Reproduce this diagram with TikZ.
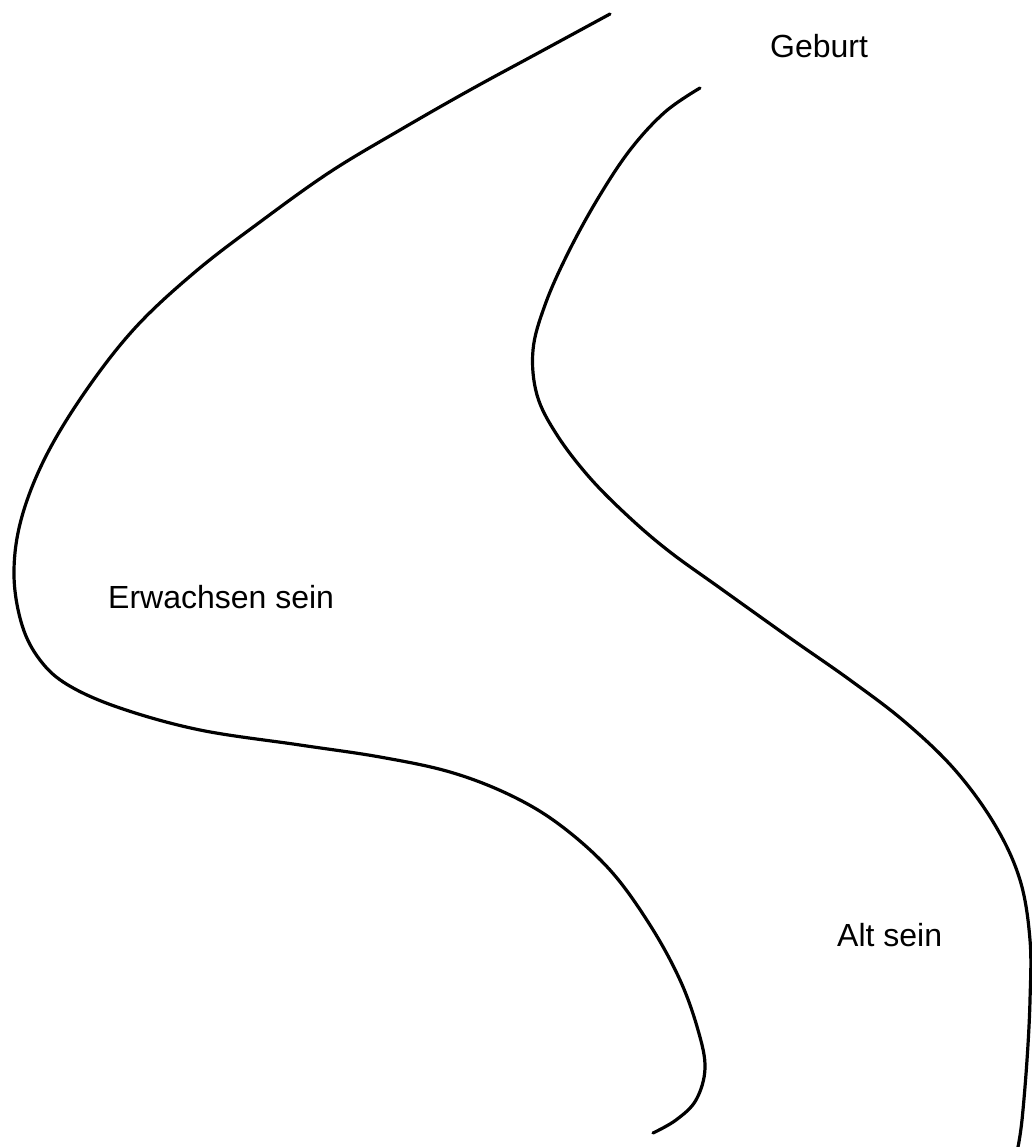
\documentclass[tikz,border=0pt]{standalone}
\usepackage{fontspec}
\setmainfont{Liberation Sans}
\begin{document}
\begin{tikzpicture}[x=1pt,y=-1pt,
  bank/.style={line width=3.2pt,line cap=round,line join=round},
  lbl/.style={anchor=base west,inner sep=0pt,font=\fontsize{32}{38}\selectfont}]
\useasboundingbox[fill=white] (0,0) rectangle (1032,1147);
\draw[bank] plot[smooth,tension=0.6] coordinates {
 (610,14) (540,52) (470,90) (400,130) (330,172) (260,222) (195,272) (135,328)
 (85,392) (45,458) (21,520) (14,575) (22,625) (40,660) (68,685) (120,708)
 (200,730) (300,745) (380,757) (450,772) (510,795) (560,825) (610,870)
 (650,925) (680,980) (698,1030) (705,1068) (696,1100) (676,1120) (653,1133)};
\draw[bank] plot[smooth,tension=0.6] coordinates {
 (700,88) (665,112) (630,150) (597,200) (567,255) (545,305) (533,350)
 (537,395) (557,435) (590,478) (630,518) (670,552) (720,588) (790,638)
 (850,680) (905,722) (955,770) (995,825) (1020,880) (1030,940) (1030,1000)
 (1027,1060) (1022,1120) (1018,1147)};
\node[lbl] (geburt) at (770,58) {Geburt};
\node[lbl] (erw) at (108,608) {Erwachsen sein};
\node[lbl] (alt) at (837,946) {Alt sein};
\end{tikzpicture}
\end{document}
